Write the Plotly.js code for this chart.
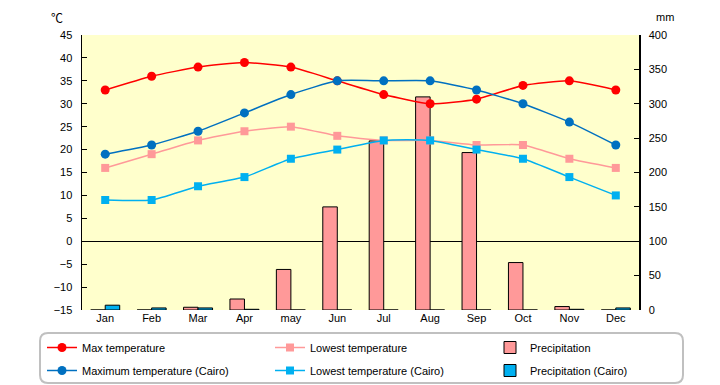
<!DOCTYPE html>
<html>
<head>
<meta charset="utf-8">
<script src="https://cdn.plot.ly/plotly-3.0.1.min.js"></script>
<style>html,body{margin:0;padding:0;background:#fff;}#chart{width:720px;height:385px;}</style>
</head>
<body>
<div id="chart"></div>
<script>
const months = ["Jan","Feb","Mar","Apr","may","Jun","Jul","Aug","Sep","Oct","Nov","Dec"];
const maxTemp = [33,36,38,39,38,35,32,30,31,34,35,33];
const lowTemp = [16,19,22,24,25,23,22,22,21,21,18,16];
const maxTempCairo = [19,21,24,28,32,35,35,35,33,30,26,21];
const lowTempCairo = [9,9,12,14,18,20,22,22,20,18,14,10];
const precip = [0,0,4,16,59,150,246,310,229,69,5,0];
const precipCairo = [7,3,3,1,0,0,0,0,0,0,1,3];

const font = "Liberation Sans, Arial, sans-serif";
const sm = 0.5;

const traces = [
  {type:"scatter", mode:"lines+markers", name:"Max temperature", x:months, y:maxTemp, yaxis:"y2",
   legend:"legend", legendgroup:"a1",
   line:{color:"#FF0000", width:1.5, shape:"spline", smoothing:sm}, marker:{symbol:"circle", size:9, color:"#FF0000"}},
  {type:"scatter", mode:"lines+markers", name:"Lowest temperature", x:months, y:lowTemp, yaxis:"y2",
   legend:"legend2", legendgroup:"b1",
   line:{color:"#FF9999", width:1.5, shape:"spline", smoothing:sm}, marker:{symbol:"square", size:8, color:"#FF9999"}},
  {type:"bar", name:"Precipitation", x:months, y:precip, yaxis:"y",
   legend:"legend3", legendgroup:"c1",
   marker:{color:"#FF9999", line:{color:"#000000", width:1}}},
  {type:"scatter", mode:"lines+markers", name:"Maximum temperature (Cairo)", x:months, y:maxTempCairo, yaxis:"y2",
   legend:"legend", legendgroup:"a2",
   line:{color:"#0070C0", width:1.5, shape:"spline", smoothing:sm}, marker:{symbol:"circle", size:9, color:"#0070C0"}},
  {type:"scatter", mode:"lines+markers", name:"Lowest temperature (Cairo)", x:months, y:lowTempCairo, yaxis:"y2",
   legend:"legend2", legendgroup:"b2",
   line:{color:"#00B0F0", width:1.5, shape:"spline", smoothing:sm}, marker:{symbol:"square", size:8, color:"#00B0F0"}},
  {type:"bar", name:"Precipitation (Cairo)", x:months, y:precipCairo, yaxis:"y",
   legend:"legend3", legendgroup:"c2",
   marker:{color:"#00B0F0", line:{color:"#000000", width:1}}}
];

// rounded legend frame in paper coords
const pw = 557, ph = 275;
function px2x(p){return (p-82)/pw;}
function px2y(p){return (310-p)/ph;}
const L=40, R=683, T=333, B=383, r=8;
const path = `M ${px2x(L+r)} ${px2y(T)} L ${px2x(R-r)} ${px2y(T)} Q ${px2x(R)} ${px2y(T)} ${px2x(R)} ${px2y(T+r)} L ${px2x(R)} ${px2y(B-r)} Q ${px2x(R)} ${px2y(B)} ${px2x(R-r)} ${px2y(B)} L ${px2x(L+r)} ${px2y(B)} Q ${px2x(L)} ${px2y(B)} ${px2x(L)} ${px2y(B-r)} L ${px2x(L)} ${px2y(T+r)} Q ${px2x(L)} ${px2y(T)} ${px2x(L+r)} ${px2y(T)} Z`;

function leg(xpx){
  return {orientation:"v", x:px2x(xpx), xanchor:"left", y:px2y(333), yanchor:"top",
          bgcolor:"rgba(0,0,0,0)", borderwidth:0, tracegroupgap:4,
          traceorder:"grouped", font:{size:11}};
}

const layout = {
  width:720, height:385,
  margin:{l:82, r:81, t:35, b:75, autoexpand:false},
  paper_bgcolor:"#FFFFFF",
  plot_bgcolor:"#FFFFCC",
  font:{family:font, size:11, color:"#000000"},
  barmode:"group", bargap:0.375, bargroupgap:0,
  showlegend:true,
  xaxis:{type:"category", categoryorder:"array", categoryarray:months, range:[-0.5,11.5],
         showline:false, ticks:"", showgrid:false, zeroline:false, tickfont:{size:11}},
  yaxis:{range:[0,400], dtick:50, side:"right", showline:true, linecolor:"#000", linewidth:1.5,
         ticks:"inside", ticklen:5, tickcolor:"#000", showgrid:false, zeroline:false,
         ticklabelstandoff:6, tickfont:{size:11}},
  yaxis2:{range:[-15,45], dtick:5, side:"left", overlaying:"y", showline:true, linecolor:"#000", linewidth:1.5,
          ticks:"inside", ticklen:5, tickcolor:"#000", showgrid:false,
          zeroline:true, zerolinecolor:"#000", zerolinewidth:1.5, ticklabelstandoff:6, tickfont:{size:11}},
  legend:leg(42),
  legend2:leg(270),
  legend3:leg(490),
  shapes:[{type:"path", xref:"paper", yref:"paper", path:path, line:{color:"#C0C0C0", width:2}, fillcolor:"rgba(0,0,0,0)", layer:"below"}],
  annotations:[
    {text:"℃", xref:"paper", yref:"paper", x:px2x(57), y:px2y(17), xanchor:"center", yanchor:"middle", showarrow:false, font:{size:12, family:"Noto Sans CJK JP, sans-serif"}},
    {text:"mm", xref:"paper", yref:"paper", x:px2x(665), y:px2y(17), xanchor:"center", yanchor:"middle", showarrow:false, font:{size:11}}
  ]
};

Plotly.newPlot("chart", traces, layout, {displayModeBar:false, staticPlot:true});
</script>
</body>
</html>
